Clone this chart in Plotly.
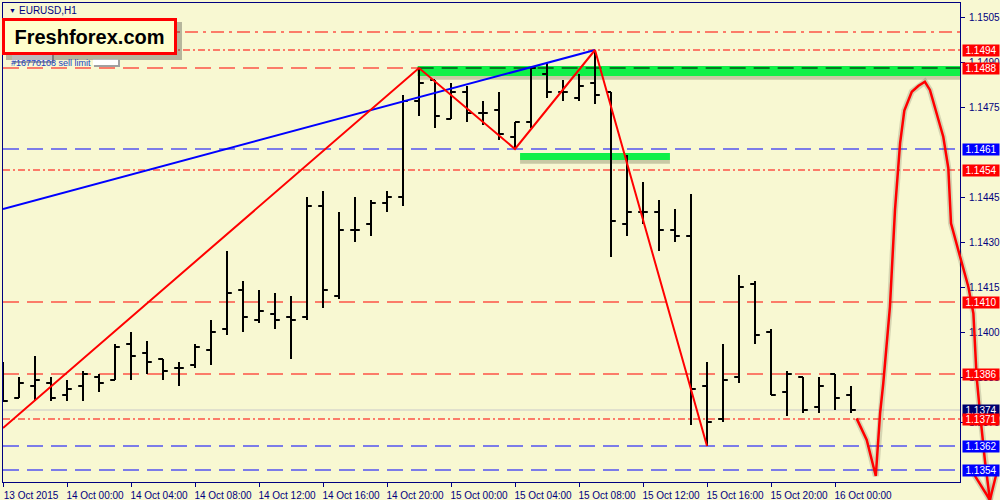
import pandas as pd
import plotly.graph_objects as go

# hourly EURUSD bars, first bar = 13 Oct 2015 20:00
opens = [1.1386, 1.1378, 1.1382, 1.1383, 1.1379, 1.1382, 1.1385, 1.1384, 1.1396, 1.1393,
         1.1391, 1.1388, 1.1389, 1.1394, 1.1401, 1.1414, 1.1404, 1.1406, 1.1405, 1.1405,
         1.1442, 1.1412, 1.1434, 1.1436, 1.1443, 1.1445, 1.1477, 1.1484, 1.1471, 1.1480,
         1.1473, 1.1474, 1.1465, 1.1470, 1.1486, 1.1480, 1.1478, 1.1483, 1.1480, 1.1436,
         1.1440, 1.1440, 1.1434, 1.1432, 1.1382, 1.1371, 1.1385, 1.1416, 1.1400, 1.1380,
         1.1385, 1.1375, 1.1386, 1.1379]
highs = [1.1390, 1.1385, 1.1392, 1.1385, 1.1384, 1.1387, 1.1386, 1.1396, 1.1400, 1.1397,
         1.1391, 1.1390, 1.1396, 1.1404, 1.1427, 1.1417, 1.1414, 1.1413, 1.1412, 1.1445,
         1.1447, 1.1440, 1.1445, 1.1444, 1.1447, 1.1479, 1.1488, 1.1484, 1.1483, 1.1482,
         1.1477, 1.1480, 1.1470, 1.1488, 1.1490, 1.1484, 1.1486, 1.1494, 1.1480, 1.1459,
         1.1450, 1.1444, 1.1441, 1.1446, 1.1390, 1.1396, 1.1419, 1.1417, 1.1401, 1.1387,
         1.1385, 1.1385, 1.1386, 1.1382]
lows = [1.1377, 1.1378, 1.1377, 1.1377, 1.1377, 1.1377, 1.1380, 1.1384, 1.1384, 1.1386,
        1.1384, 1.1382, 1.1388, 1.1389, 1.1399, 1.1400, 1.1403, 1.1401, 1.1391, 1.1404,
        1.1408, 1.1411, 1.1430, 1.1432, 1.1440, 1.1442, 1.1472, 1.1468, 1.1471, 1.1470,
        1.1469, 1.1464, 1.1461, 1.1468, 1.1478, 1.1477, 1.1477, 1.1476, 1.1425, 1.1432,
        1.1436, 1.1427, 1.1430, 1.1369, 1.1362, 1.1370, 1.1383, 1.1396, 1.1379, 1.1372,
        1.1373, 1.1373, 1.1374, 1.1373]
closes = [1.1377, 1.1383, 1.1384, 1.1378, 1.1381, 1.1386, 1.1383, 1.1395, 1.1392, 1.1390,
          1.1387, 1.1388, 1.1395, 1.1400, 1.1413, 1.1405, 1.1407, 1.1404, 1.1404, 1.1442,
          1.1414, 1.1434, 1.1434, 1.1443, 1.1445, 1.1477, 1.1483, 1.1472, 1.1480, 1.1473,
          1.1473, 1.1466, 1.1470, 1.1488, 1.1480, 1.1480, 1.1482, 1.1479, 1.1437, 1.1440,
          1.1440, 1.1434, 1.1432, 1.1381, 1.1370, 1.1384, 1.1415, 1.1399, 1.1379, 1.1386,
          1.1374, 1.1382, 1.1378, 1.1374]
bar_times = pd.date_range("2015-10-13 20:00", periods=len(opens), freq="h")

# horizontal levels
levels = [1.1500, 1.1494, 1.1488, 1.1461, 1.1454, 1.1410, 1.1386, 1.1374, 1.1371, 1.1362, 1.1354]
level_colors = ["red", "red", "red", "blue", "red", "red", "red", "#c8c8c8", "red", "blue", "blue"]
level_dash = ["13px,5px,3px,5px", "7px,3px,2px,3px", "16px,8px", "16px,8px", "7px,3px,2px,3px",
              "16px,8px", "16px,8px", "solid", "7px,3px,2px,3px", "16px,8px", "16px,8px"]
label_levels = [1.1494, 1.1488, 1.1461, 1.1454, 1.1410, 1.1386, 1.1374, 1.1371, 1.1362, 1.1354]
label_colors = ["#ff0000", "#ff0000", "#0000ff", "#ff0000", "#ff0000", "#ff0000", "#00006e",
                "#ff0000", "#0000ff", "#0000ff"]

# zigzag and trendline
zz_times = ["2015-10-13 20:00", "2015-10-14 22:00", "2015-10-15 04:00", "2015-10-15 09:00", "2015-10-15 16:00"]
zz_prices = [1.1368, 1.1488, 1.1461, 1.1494, 1.1362]
trend_times = ["2015-10-13 20:00", "2015-10-15 09:00"]
trend_prices = [1.1441, 1.1494]

# green zones
zone_x0 = ["2015-10-14 21:55", "2015-10-15 04:19"]
zone_x1 = ["2015-10-16 12:00", "2015-10-15 13:41"]
zone_lo = [1.14853, 1.14573]
zone_hi = [1.14887, 1.14597]

# hand-drawn forecast curve
curve_times = ["2015-10-16 01:21", "2015-10-16 01:59", "2015-10-16 02:33", "2015-10-16 02:49",
               "2015-10-16 03:01", "2015-10-16 03:26", "2015-10-16 03:45", "2015-10-16 04:04",
               "2015-10-16 04:20", "2015-10-16 04:48", "2015-10-16 05:12", "2015-10-16 05:37",
               "2015-10-16 05:56", "2015-10-16 06:21", "2015-10-16 06:46", "2015-10-16 07:05",
               "2015-10-16 07:15", "2015-10-16 07:49", "2015-10-16 08:20", "2015-10-16 08:39",
               "2015-10-16 08:45", "2015-10-16 08:51", "2015-10-16 09:04", "2015-10-16 09:22",
               "2015-10-16 09:41", None, "2015-10-16 08:39", "2015-10-16 09:41", "2015-10-16 10:07"]
curve_prices = [1.13712, 1.1364, 1.1352, 1.13729, 1.13829, 1.14084, 1.14407, 1.14629,
                1.14738, 1.14801, 1.1482, 1.14834, 1.14807, 1.14729, 1.14651, 1.14546,
                1.14362, 1.14251, 1.14151, 1.14062, 1.13962, 1.13851, 1.13729, 1.13573,
                1.1344, None, 1.13529, 1.1344, 1.13534]

tick_times = ["2015-10-13 20:00", "2015-10-14 00:00", "2015-10-14 04:00", "2015-10-14 08:00",
              "2015-10-14 12:00", "2015-10-14 16:00", "2015-10-14 20:00", "2015-10-15 00:00",
              "2015-10-15 04:00", "2015-10-15 08:00", "2015-10-15 12:00", "2015-10-15 16:00",
              "2015-10-15 20:00", "2015-10-16 00:00"]
tick_labels = ["13 Oct 2015", "14 Oct 00:00", "14 Oct 04:00", "14 Oct 08:00", "14 Oct 12:00",
               "14 Oct 16:00", "14 Oct 20:00", "15 Oct 00:00", "15 Oct 04:00", "15 Oct 08:00",
               "15 Oct 12:00", "15 Oct 16:00", "15 Oct 20:00", "16 Oct 00:00"]
price_ticks = [1.1370, 1.1385, 1.1400, 1.1415, 1.1430, 1.1445, 1.1475, 1.1490, 1.1505]

BG = "#f8f8d2"
NAVY = "#000080"
FONT = "Liberation Sans"

fig = go.Figure()

fig.add_trace(go.Ohlc(
    x=bar_times, open=opens, high=highs, low=lows, close=closes,
    increasing=dict(line=dict(color="black", width=2)),
    decreasing=dict(line=dict(color="black", width=2)),
    tickwidth=0.3, hoverinfo="skip", showlegend=False,
))
fig.add_trace(go.Scatter(x=trend_times, y=trend_prices, mode="lines",
                         line=dict(color="#0000ff", width=2), hoverinfo="skip", showlegend=False))
fig.add_trace(go.Scatter(x=zz_times, y=zz_prices, mode="lines",
                         line=dict(color="#ff0000", width=2), hoverinfo="skip", showlegend=False))

# forecast curve on a full-width overlay axis so it can run over the price scale
fig.add_trace(go.Scatter(x=curve_times, y=curve_prices, mode="lines", xaxis="x2", yaxis="y2",
                         line=dict(color="rgba(90,90,70,0.22)", width=6), hoverinfo="skip",
                         showlegend=False, connectgaps=False))
fig.add_trace(go.Scatter(x=curve_times, y=curve_prices, mode="lines", xaxis="x2", yaxis="y2",
                         line=dict(color="#ff0000", width=2.5), hoverinfo="skip",
                         showlegend=False, connectgaps=False))

# green zones with a soft shadow
for x0, x1, lo, hi in zip(zone_x0, zone_x1, zone_lo, zone_hi):
    fig.add_shape(type="rect", xref="x", yref="y", x0=x0, x1=x1, y0=lo - 0.00012, y1=hi - 0.00006,
                  fillcolor="rgba(90,90,60,0.3)", line_width=0, layer="below")
    fig.add_shape(type="rect", xref="x", yref="y", x0=x0, x1=x1, y0=lo, y1=hi,
                  fillcolor="#10f048", line_width=0, layer="below")

for lv, col, dash in zip(levels, level_colors, level_dash):
    fig.add_shape(type="line", xref="x domain", yref="y", x0=0, x1=1, y0=lv, y1=lv,
                  line=dict(color=col, width=1, dash=dash), layer="below")
# dashed line shows black over the upper green zone
fig.add_shape(type="line", xref="x", yref="y", x0=zone_x0[0], x1=zone_x1[0], y0=levels[2], y1=levels[2],
              line=dict(color="black", width=1, dash="16px,8px"), layer="below")

for lv, col in zip(label_levels, label_colors):
    fig.add_annotation(xref="paper", yref="y", x=0.962, y=lv, xanchor="left", yanchor="middle",
                       text=f"{lv:.4f}", showarrow=False, bgcolor=col, width=36, height=11,
                       borderpad=0, font=dict(family=FONT, size=10, color="white"))

# header texts
fig.add_annotation(xref="paper", yref="paper", x=0.007, y=1 - 10 / 500, xanchor="left", yanchor="middle",
                   text="▼", showarrow=False, font=dict(family=FONT, size=7, color=NAVY))
fig.add_annotation(xref="paper", yref="paper", x=0.017, y=1 - 10 / 500, xanchor="left", yanchor="middle",
                   text="EURUSD,H1", showarrow=False, font=dict(family=FONT, size=10, color=NAVY))
fig.add_annotation(xref="paper", yref="paper", x=0.009, y=1 - 63 / 500, xanchor="left", yanchor="middle",
                   text="#16770108 sell limit", showarrow=False, font=dict(family=FONT, size=9, color="#2040c0"))
for bx0, by0, bx1, by1 in [(12, 53, 52, 61), (93, 59, 118, 65)]:
    fig.add_shape(type="rect", xref="paper", yref="paper", x0=(bx0 + 1) / 1000, x1=(bx1 + 2) / 1000,
                  y0=1 - (by1 + 2) / 500, y1=1 - (by0 + 1) / 500, fillcolor="#a0a0a0", line_width=0)
    fig.add_shape(type="rect", xref="paper", yref="paper", x0=bx0 / 1000, x1=bx1 / 1000,
                  y0=1 - by1 / 500, y1=1 - by0 / 500, fillcolor="white", line_width=0)

fig.add_shape(type="rect", xref="paper", yref="paper", x0=6 / 1000, x1=182 / 1000,
              y0=1 - 60 / 500, y1=1 - 22 / 500, fillcolor="rgba(60,60,60,0.35)", line_width=0)
fig.add_annotation(xref="paper", yref="paper", x=0.002, y=1 - 18 / 500, xanchor="left", yanchor="top",
                   text="<b>Freshforex.com</b>", showarrow=False, bgcolor="#ffffcc",
                   bordercolor="#ff0000", borderwidth=3, borderpad=0, width=169, height=31,
                   font=dict(family=FONT, size=20, color="black"))

fig.update_layout(
    width=1000, height=500,
    margin=dict(l=0, r=0, t=0, b=0),
    paper_bgcolor=BG, plot_bgcolor="rgba(0,0,0,0)",
    showlegend=False, hovermode=False,
    xaxis=dict(
        domain=[0.003, 0.960], range=["2015-10-13 20:00", "2015-10-16 07:48:45"],
        rangeslider=dict(visible=False), showgrid=False, zeroline=False,
        showline=True, linecolor=NAVY, linewidth=1, mirror=True,
        ticks="outside", ticklen=4, tickcolor=NAVY,
        tickvals=tick_times, ticktext=tick_labels, ticklabelshift=28, ticklabelstandoff=0,
        tickfont=dict(family=FONT, size=10, color=NAVY),
    ),
    yaxis=dict(
        domain=[18 / 500, 497 / 500], range=[1.1505 - 465 / 30000, 1.1505 + 14 / 30000],
        side="right", showgrid=False, zeroline=False,
        showline=True, linecolor=NAVY, linewidth=1, mirror=True,
        ticks="outside", ticklen=4, tickcolor=NAVY,
        tickvals=price_ticks, tickformat=".4f", ticklabelstandoff=2,
        tickfont=dict(family=FONT, size=10, color=NAVY),
    ),
    xaxis2=dict(domain=[0, 1], anchor="y2", visible=False,
                range=["2015-10-13 19:48:45", "2015-10-16 10:18:45"]),
    yaxis2=dict(domain=[0, 1], anchor="x2", visible=False,
                range=[1.1505 - 483 / 30000, 1.1505 + 17 / 30000]),
)

fig.write_html("out.html", config={"displayModeBar": False},
               post_script="document.body.style.margin='0px';")
